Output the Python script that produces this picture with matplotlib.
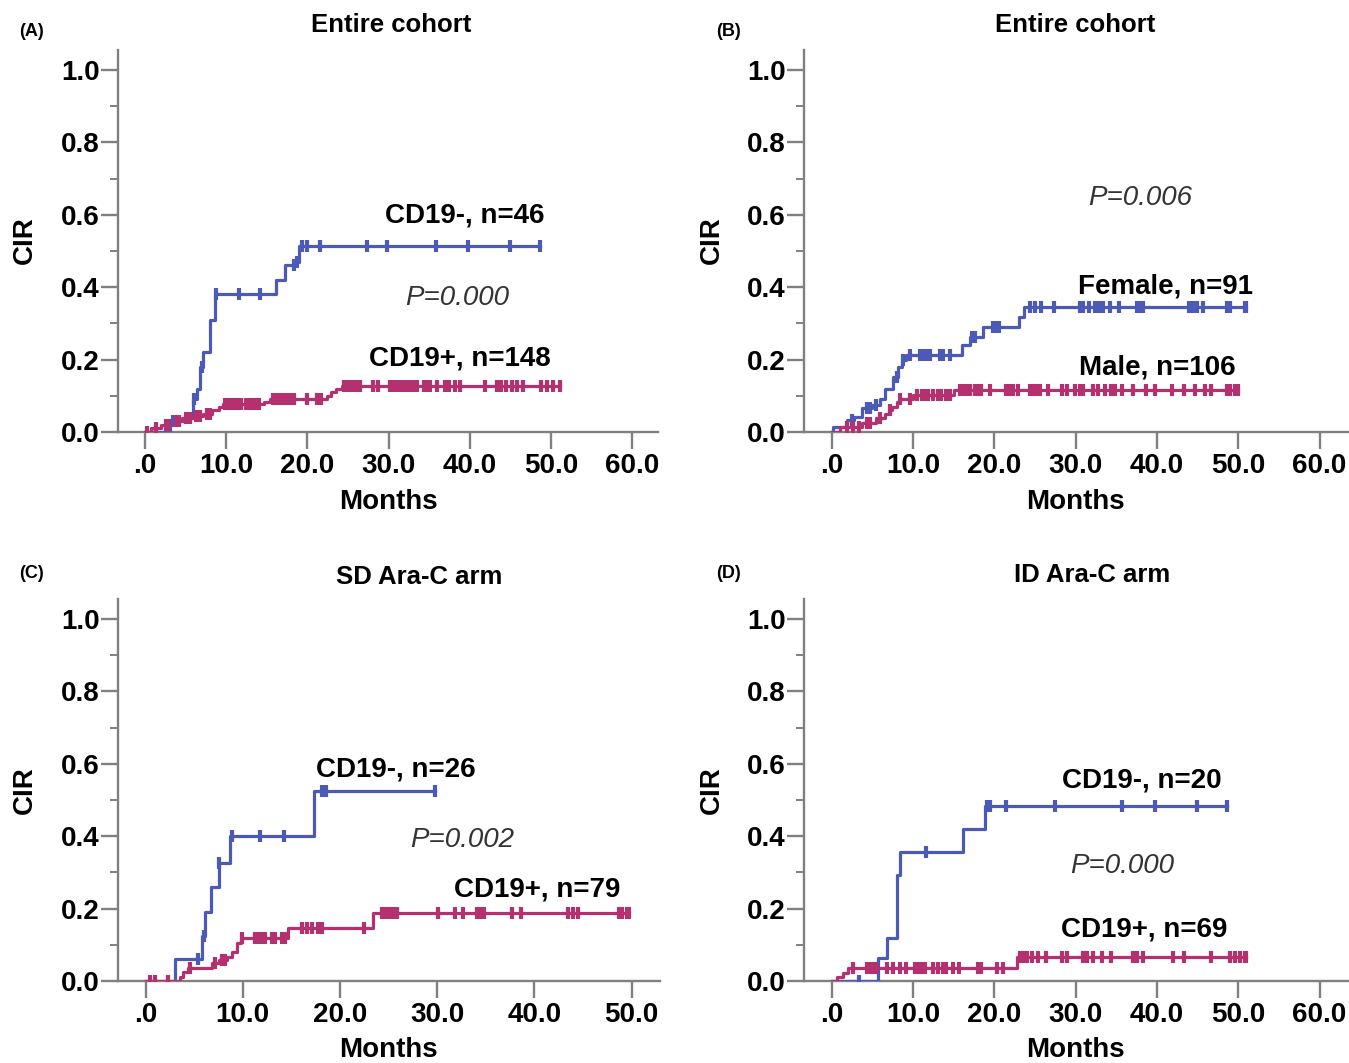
import numpy as np
import matplotlib.pyplot as plt

plt.rcParams['font.family'] = ['Liberation Sans', 'DejaVu Sans']

BLUE = '#4a5ab6'
PINK = '#b5306f'
GREY = '#808080'

# ---- Panel A: entire cohort, CD19 ----
a_neg_t = [0, 3.1, 5.5, 5.9, 6.4, 6.8, 7.2, 8.0, 8.6, 16.1, 17.2, 18.4, 19.0]
a_neg_v = [0, 0.03, 0.04, 0.09, 0.12, 0.18, 0.22, 0.31, 0.38, 0.42, 0.46, 0.47, 0.515]
a_neg_cens = [3.5, 6.0, 7.0, 8.8, 11.6, 14.2, 18.3, 18.7, 19.3, 20.0, 21.5, 27.4,
              29.8, 35.8, 39.8, 45.0, 48.6]
a_pos_t = [0, 0.8, 2.0, 3.2, 4.5, 5.9, 7.2, 8.3, 9.1, 9.6, 14.6, 15.4, 22.4, 22.9, 23.5, 24.2]
a_pos_v = [0, 0.01, 0.02, 0.03, 0.038, 0.045, 0.05, 0.06, 0.07, 0.076, 0.082, 0.092,
           0.10, 0.11, 0.12, 0.127]
a_pos_cens = [0.3, 1.4, 2.6, 3.0, 3.8, 4.2, 5.0, 5.5, 6.3, 6.8, 7.6, 8.0, 9.8, 10.2, 10.6,
              11.0, 11.4, 11.8, 12.4, 12.8, 13.2, 13.6, 14.0, 15.8, 16.3, 16.7, 17.2, 17.6,
              18.0, 18.4, 20.0, 21.2, 21.7, 24.5, 24.9, 25.3, 25.7, 26.1, 26.5, 28.1, 28.7,
              30.2, 30.6, 31.0, 31.4, 31.8, 32.2, 32.6, 33.0, 33.5, 34.3, 34.7, 35.1, 35.9,
              36.9, 37.2, 37.5, 38.2, 38.8, 41.9, 43.3, 43.9, 44.5, 45.2, 45.8, 46.6, 48.8,
              49.5, 50.3, 51.1]

# ---- Panel B: entire cohort, sex ----
b_fem_t = [0, 0.2, 1.85, 2.7, 3.7, 4.9, 5.9, 6.5, 7.6, 8.2, 8.6, 9.2, 16.0, 17.0, 18.6, 23.0, 23.6]
b_fem_v = [0, 0.015, 0.033, 0.042, 0.065, 0.074, 0.092, 0.12, 0.152, 0.18, 0.20, 0.212,
           0.239, 0.262, 0.29, 0.317, 0.344]
b_fem_cens = [2.45, 4.3, 4.7, 5.5, 8.0, 8.8, 9.6, 10.9, 11.3, 11.7, 12.1, 13.3, 13.7, 14.55,
              17.2, 17.6, 19.9, 20.3, 20.6, 24.4, 25.0, 25.8, 27.3, 30.5, 30.95, 31.6, 32.4,
              32.8, 33.0, 33.4, 34.2, 35.3, 37.5, 37.9, 38.3, 43.9, 44.5, 44.9, 45.7, 48.6,
              49.0, 50.8, 51.0]
b_male_t = [0, 1.0, 3.7, 5.5, 6.55, 7.0, 7.4, 8.0, 8.4, 10.0, 15.0]
b_male_v = [0, 0.015, 0.024, 0.038, 0.051, 0.06, 0.069, 0.083, 0.092, 0.101, 0.115]
b_male_cens = [1.85, 2.66, 3.3, 4.3, 4.7, 5.94, 7.2, 8.4, 9.6, 10.45, 11.1, 11.5, 11.9, 12.5,
               13.1, 13.5, 14.1, 14.55, 15.8, 16.2, 16.6, 17.0, 17.6, 18.0, 18.4, 19.5, 21.5,
               21.9, 22.3, 22.95, 24.4, 24.8, 25.2, 25.6, 26.6, 28.3, 28.9, 29.9, 30.5, 30.95,
               32.2, 32.8, 33.6, 34.4, 34.8, 35.7, 37.1, 38.7, 39.8, 41.8, 43.3, 44.7, 45.9,
               46.7, 48.6, 49.0, 49.6, 50.0]

# ---- Panel C: SD Ara-C arm ----
c_neg_t = [0, 3.05, 5.8, 6.15, 6.7, 7.55, 8.65, 17.3]
c_neg_v = [0, 0.061, 0.124, 0.19, 0.26, 0.327, 0.40, 0.524]
c_neg_cens = [5.4, 6.0, 7.6, 8.9, 11.8, 14.2, 18.2, 18.6, 29.8]
c_pos_t = [0, 3.55, 3.9, 4.4, 6.8, 7.55, 8.4, 8.9, 9.45, 9.8, 14.7, 23.4]
c_pos_v = [0, 0.012, 0.026, 0.035, 0.049, 0.058, 0.067, 0.081, 0.104, 0.118, 0.146, 0.187]
c_pos_cens = [0.45, 0.96, 2.35, 4.6, 7.2, 7.9, 8.2, 9.97, 11.3, 11.6, 12.0, 12.3, 13.0,
              13.3, 14.0, 14.4, 16.1, 16.6, 17.1, 17.7, 18.2, 22.5, 24.3, 24.65, 25.0, 25.5,
              25.9, 30.1, 31.8, 32.7, 34.1, 34.4, 34.8, 37.7, 38.6, 43.5, 44.0, 44.5, 48.7,
              49.0, 49.5, 49.7]

# ---- Panel D: ID Ara-C arm ----
d_neg_t = [0, 5.7, 6.8, 8.0, 8.4, 16.2, 18.85]
d_neg_v = [0, 0.063, 0.118, 0.294, 0.355, 0.42, 0.484]
d_neg_cens = [3.3, 11.6, 19.1, 19.5, 21.5, 27.5, 35.7, 39.8, 44.9, 48.6]
d_pos_t = [0, 0.6, 1.4, 2.0, 22.75]
d_pos_v = [0, 0.012, 0.021, 0.035, 0.067]
d_pos_cens = [2.66, 4.3, 4.7, 5.1, 5.5, 6.8, 7.58, 8.4, 9.2, 10.2, 10.65, 11.1, 11.5, 12.5,
              13.1, 13.7, 14.1, 14.96, 15.6, 18.0, 18.4, 20.3, 21.1, 23.2, 23.6, 24.0, 24.6,
              25.4, 26.4, 28.3, 28.9, 30.95, 31.4, 32.2, 33.2, 34.4, 37.1, 37.5, 38.3, 42.0,
              43.3, 46.7, 49.0, 49.6, 50.2, 50.8, 51.0]

W, H = 1349, 1063


def draw_curve(ax, t, v, cens, color):
    t_end = max(cens)
    tt = list(t) + [t_end]
    vv = list(v) + [v[-1]]
    ax.step(tt, vv, where='post', color=color, lw=2.3, zorder=3)
    idx = np.searchsorted(t, cens, side='right') - 1
    cy = np.array(v)[idx]
    ax.plot(cens, cy, ls='none', marker='|', ms=9, mew=3.0, color=color, zorder=4)


def setup_axes(px_left, px_right, px_zero, x0_px, px_per_month, xmax_tick):
    ax = fig.add_axes([px_left / W, 1 - px_zero / H, (px_right - px_left) / W, 382 / H])
    ax.set_xlim((px_left - x0_px) / px_per_month, (px_right - x0_px) / px_per_month)
    ax.set_ylim(0, 382 / 362)
    for s in ['top', 'right']:
        ax.spines[s].set_visible(False)
    for s in ['left', 'bottom']:
        ax.spines[s].set_color(GREY)
        ax.spines[s].set_linewidth(1.7)
    xt = np.arange(0, xmax_tick + 1, 10)
    ax.set_xticks(xt)
    ax.set_xticklabels(['.0'] + ['%.1f' % x for x in xt[1:]])
    ax.set_yticks(np.arange(0, 1.01, 0.2))
    ax.set_yticklabels(['%.1f' % y for y in np.arange(0, 1.01, 0.2)])
    ax.set_yticks(np.arange(0.1, 1.0, 0.2), minor=True)
    ax.tick_params(axis='x', length=12, width=1.7, color=GREY, pad=3, labelsize=20)
    ax.tick_params(axis='y', which='major', length=12, width=1.7, color=GREY, pad=1, labelsize=20)
    ax.tick_params(axis='y', which='minor', length=6, width=1.4, color=GREY)
    for lab in ax.get_xticklabels() + ax.get_yticklabels():
        lab.set_fontweight('bold')
    ax.patch.set_alpha(0)
    return ax


fig = plt.figure(figsize=(W / 100, H / 100), dpi=100)

axA = setup_axes(118, 658, 432, 145, 8.12, 60)
axB = setup_axes(804, 1349, 432, 831.7, 8.13, 60)
axC = setup_axes(118, 660, 981, 145.5, 9.72, 50)
axD = setup_axes(804, 1349, 981, 831.7, 8.13, 60)

draw_curve(axA, a_neg_t, a_neg_v, a_neg_cens, BLUE)
draw_curve(axA, a_pos_t, a_pos_v, a_pos_cens, PINK)
draw_curve(axB, b_fem_t, b_fem_v, b_fem_cens, BLUE)
draw_curve(axB, b_male_t, b_male_v, b_male_cens, PINK)
draw_curve(axC, c_neg_t, c_neg_v, c_neg_cens, BLUE)
draw_curve(axC, c_pos_t, c_pos_v, c_pos_cens, PINK)
draw_curve(axD, d_neg_t, d_neg_v, d_neg_cens, BLUE)
draw_curve(axD, d_pos_t, d_pos_v, d_pos_cens, PINK)

lab_kw = dict(ha='center', va='center', fontsize=20, fontweight='bold')
p_kw = dict(ha='center', va='center', fontsize=20, style='italic', color='#333333')

axA.text(39.4, 0.597, 'CD19-, n=46', **lab_kw)
axA.text(38.4, 0.37, 'P=0.000', **p_kw)
axA.text(38.8, 0.204, 'CD19+, n=148', **lab_kw)

axB.text(38.0, 0.646, 'P=0.006', **p_kw)
axB.text(41.1, 0.403, 'Female, n=91', **lab_kw)
axB.text(40.0, 0.177, 'Male, n=106', **lab_kw)

axC.text(25.8, 0.584, 'CD19-, n=26', **lab_kw)
axC.text(32.6, 0.39, 'P=0.002', **p_kw)
axC.text(40.3, 0.252, 'CD19+, n=79', **lab_kw)

axD.text(38.2, 0.553, 'CD19-, n=20', **lab_kw)
axD.text(35.7, 0.319, 'P=0.000', **p_kw)
axD.text(38.4, 0.142, 'CD19+, n=69', **lab_kw)


def ftext(x, y, s, **kw):
    fig.text(x / W, 1 - y / H, s, **kw)


title_kw = dict(ha='center', va='center', fontsize=18.5, fontweight='bold')
ftext(391, 25, 'Entire cohort', **title_kw)
ftext(1075, 25, 'Entire cohort', **title_kw)
ftext(419, 577, 'SD Ara-C arm', **title_kw)
ftext(1092, 575, 'ID Ara-C arm', **title_kw)

panel_kw = dict(ha='center', va='center', fontsize=13, fontweight='bold')
ftext(32, 32, '(A)', **panel_kw)
ftext(729, 32, '(B)', **panel_kw)
ftext(32, 573, '(C)', **panel_kw)
ftext(729, 573, '(D)', **panel_kw)

for x, y in [(388, 502), (1075, 502), (388, 1050), (1075, 1050)]:
    ftext(x, y, 'Months', ha='center', va='center', fontsize=20, fontweight='bold')
for x, y in [(25, 240), (712, 240), (25, 790), (712, 790)]:
    ftext(x, y, 'CIR', ha='center', va='center', fontsize=20, fontweight='bold', rotation=90)

fig.savefig('out.png', dpi=100)
